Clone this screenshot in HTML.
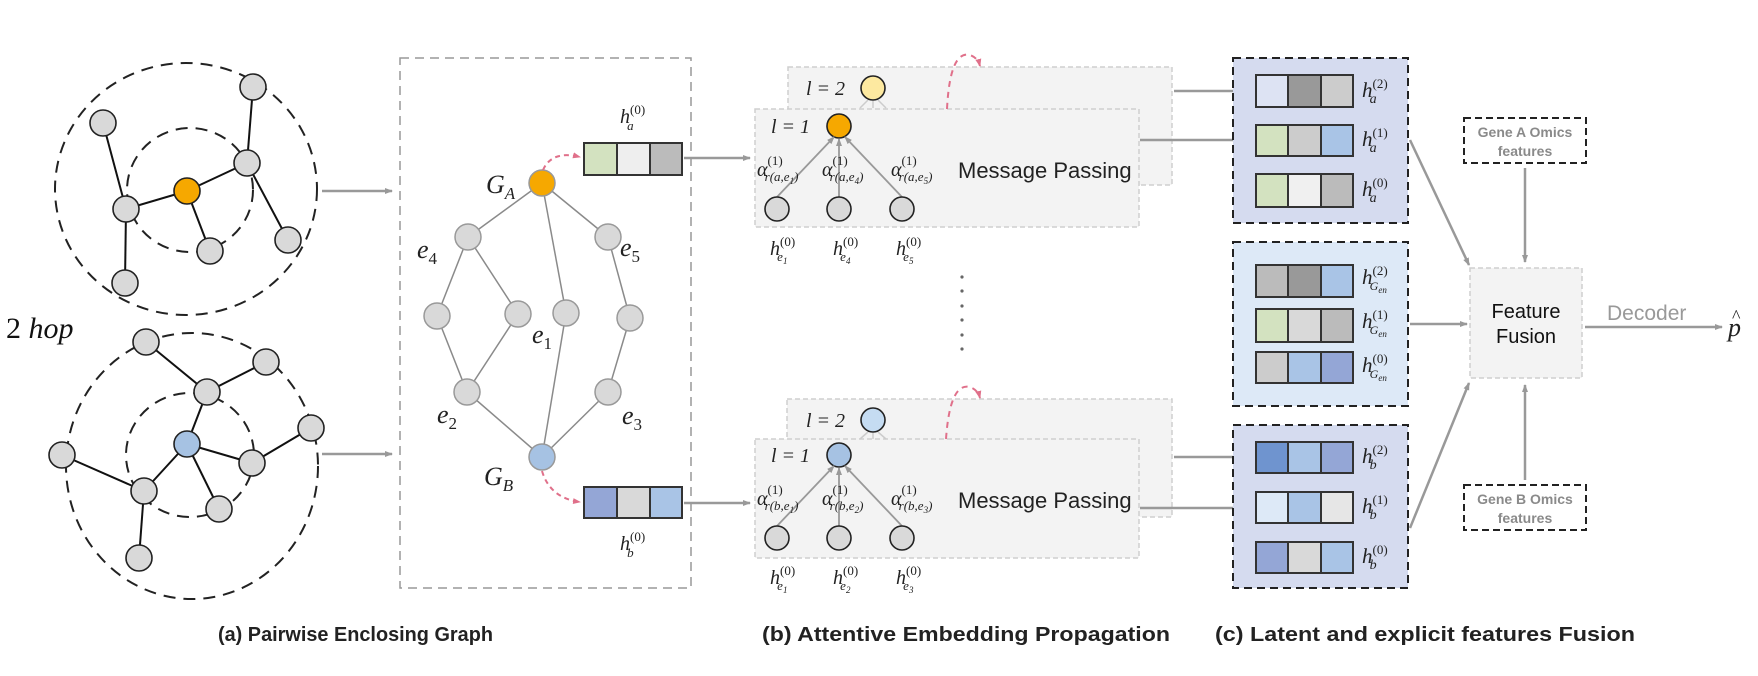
<!DOCTYPE html>
<html><head><meta charset="utf-8"><style>
html,body{margin:0;padding:0;background:#fff;}
svg{display:block;}
.m{font-family:"Liberation Serif",serif;font-style:italic;fill:#222;}
.s{font-family:"Liberation Sans",sans-serif;}
</style></head><body>
<svg width="1758" height="676" viewBox="0 0 1758 676" xmlns="http://www.w3.org/2000/svg">
<defs>
<marker id="ag" markerWidth="8" markerHeight="8" refX="7" refY="4" orient="auto" markerUnits="userSpaceOnUse"><path d="M0,1 L8,4 L0,7 z" fill="#999"/></marker>
<marker id="ap" markerWidth="8" markerHeight="8" refX="7" refY="4" orient="auto" markerUnits="userSpaceOnUse"><path d="M0,1 L8,4 L0,7 z" fill="#e0708a"/></marker>
</defs>

<!-- Top left graph -->
<ellipse cx="186" cy="189" rx="131" ry="126" fill="none" stroke="#222" stroke-width="2" stroke-dasharray="12,8"/>
<ellipse cx="190" cy="190" rx="63" ry="62" fill="none" stroke="#222" stroke-width="2" stroke-dasharray="12,8"/>
<g stroke="#111" stroke-width="2">
<line x1="103" y1="123" x2="126" y2="209"/><line x1="126" y1="209" x2="187" y2="191"/>
<line x1="187" y1="191" x2="247" y2="163"/><line x1="247" y1="163" x2="253" y2="87"/>
<line x1="247" y1="163" x2="288" y2="240"/><line x1="187" y1="191" x2="210" y2="251"/>
<line x1="126" y1="209" x2="125" y2="283"/>
</g>
<g stroke="#222" stroke-width="1.6" fill="#d9d9d9">
<circle cx="253" cy="87" r="13"/><circle cx="103" cy="123" r="13"/><circle cx="247" cy="163" r="13"/>
<circle cx="187" cy="191" r="13" fill="#f6a800"/><circle cx="126" cy="209" r="13"/><circle cx="210" cy="251" r="13"/>
<circle cx="288" cy="240" r="13"/><circle cx="125" cy="283" r="13"/>
</g>
<text x="6" y="338" font-family="Liberation Serif,serif" font-size="30" fill="#111">2 <tspan font-style="italic">hop</tspan></text>

<!-- Bottom left graph -->
<ellipse cx="192" cy="466" rx="126" ry="133" fill="none" stroke="#222" stroke-width="2" stroke-dasharray="12,8"/>
<ellipse cx="190" cy="455" rx="64" ry="62" fill="none" stroke="#222" stroke-width="2" stroke-dasharray="12,8"/>
<g stroke="#111" stroke-width="2">
<line x1="146" y1="342" x2="207" y2="392"/><line x1="266" y1="362" x2="207" y2="392"/>
<line x1="207" y1="392" x2="187" y2="444"/><line x1="187" y1="444" x2="252" y2="463"/>
<line x1="252" y1="463" x2="311" y2="428"/><line x1="187" y1="444" x2="144" y2="491"/>
<line x1="187" y1="444" x2="219" y2="509"/><line x1="62" y1="455" x2="144" y2="491"/>
<line x1="144" y1="491" x2="139" y2="558"/>
</g>
<g stroke="#222" stroke-width="1.6" fill="#d9d9d9">
<circle cx="146" cy="342" r="13"/><circle cx="266" cy="362" r="13"/><circle cx="207" cy="392" r="13"/>
<circle cx="311" cy="428" r="13"/><circle cx="187" cy="444" r="13" fill="#a6c2e3"/><circle cx="62" cy="455" r="13"/>
<circle cx="252" cy="463" r="13"/><circle cx="144" cy="491" r="13"/><circle cx="219" cy="509" r="13"/>
<circle cx="139" cy="558" r="13"/>
</g>

<line x1="322" y1="191" x2="392" y2="191" stroke="#999" stroke-width="2.5" marker-end="url(#ag)"/>
<line x1="322" y1="454" x2="392" y2="454" stroke="#999" stroke-width="2.5" marker-end="url(#ag)"/>

<!-- Enclosing graph box -->
<rect x="400" y="58" width="291" height="530" fill="none" stroke="#999" stroke-width="1.5" stroke-dasharray="9,6"/>
<g stroke="#8a8a8a" stroke-width="1.5">
<line x1="542" y1="183" x2="468" y2="237"/><line x1="542" y1="183" x2="608" y2="237"/><line x1="542" y1="183" x2="566" y2="313"/>
<line x1="468" y1="237" x2="437" y2="316"/><line x1="468" y1="237" x2="518" y2="314"/><line x1="608" y1="237" x2="630" y2="318"/>
<line x1="437" y1="316" x2="467" y2="392"/><line x1="518" y1="314" x2="467" y2="392"/><line x1="566" y1="313" x2="542" y2="457"/>
<line x1="630" y1="318" x2="608" y2="392"/><line x1="467" y1="392" x2="542" y2="457"/><line x1="608" y1="392" x2="542" y2="457"/>
</g>
<g stroke="#999" stroke-width="1.5" fill="#d9d9d9">
<circle cx="542" cy="183" r="13" fill="#f6a800"/><circle cx="468" cy="237" r="13"/><circle cx="608" cy="237" r="13"/>
<circle cx="437" cy="316" r="13"/><circle cx="518" cy="314" r="13"/><circle cx="566" cy="313" r="13"/><circle cx="630" cy="318" r="13"/>
<circle cx="467" cy="392" r="13"/><circle cx="608" cy="392" r="13"/><circle cx="542" cy="457" r="13" fill="#a6c2e3"/>
</g>
<g class="m" font-size="26">
<text x="486" y="193">G<tspan font-size="17" dy="6">A</tspan></text>
<text x="417" y="258">e<tspan font-size="17" dy="6" font-style="normal">4</tspan></text>
<text x="620" y="256">e<tspan font-size="17" dy="6" font-style="normal">5</tspan></text>
<text x="532" y="343">e<tspan font-size="17" dy="6" font-style="normal">1</tspan></text>
<text x="437" y="423">e<tspan font-size="17" dy="6" font-style="normal">2</tspan></text>
<text x="622" y="424">e<tspan font-size="17" dy="6" font-style="normal">3</tspan></text>
<text x="484" y="485">G<tspan font-size="17" dy="6">B</tspan></text>
</g>
<!-- initial vectors -->
<g stroke="#333" stroke-width="2">
<rect x="584" y="143" width="33" height="32" fill="#d3e2c0"/><rect x="617" y="143" width="33" height="32" fill="#eeeeee"/><rect x="650" y="143" width="32" height="32" fill="#bbbbbb"/>
<rect x="584" y="487" width="33" height="31" fill="#94a6d6"/><rect x="617" y="487" width="33" height="31" fill="#d9d9d9"/><rect x="650" y="487" width="32" height="31" fill="#a9c4e6"/>
</g>
<text class="m" x="620" y="123" font-size="20">h<tspan font-size="13" dy="-9" font-style="normal">(0)</tspan><tspan font-size="13" dx="-18" dy="16">a</tspan></text>
<text class="m" x="620" y="550" font-size="20">h<tspan font-size="13" dy="-9" font-style="normal">(0)</tspan><tspan font-size="13" dx="-18" dy="16">b</tspan></text>
<path d="M543,170 Q552,150 580,157" fill="none" stroke="#e0708a" stroke-width="2" stroke-dasharray="5,4" marker-end="url(#ap)"/>
<path d="M542,471 Q550,498 580,502" fill="none" stroke="#e0708a" stroke-width="2" stroke-dasharray="5,4" marker-end="url(#ap)"/>
<line x1="684" y1="158" x2="750" y2="158" stroke="#999" stroke-width="2.5" marker-end="url(#ag)"/>
<line x1="684" y1="503" x2="750" y2="503" stroke="#999" stroke-width="2.5" marker-end="url(#ag)"/>

<!-- Message passing top -->
<rect x="788" y="67" width="384" height="118" fill="#f3f3f3" stroke="#cfcfcf" stroke-width="1.5" stroke-dasharray="5,3"/>
<rect x="755" y="109" width="384" height="118" fill="#f3f3f3" stroke="#cfcfcf" stroke-width="1.5" stroke-dasharray="5,3"/>
<circle cx="873" cy="88" r="12" fill="#fde9a0" stroke="#222" stroke-width="1.6"/>
<circle cx="839" cy="126" r="12" fill="#f6a800" stroke="#222" stroke-width="1.6"/>
<g stroke="#ccc" stroke-width="1.5"><line x1="860" y1="108" x2="868" y2="100"/><line x1="873" y1="108" x2="873" y2="101"/><line x1="886" y1="108" x2="878" y2="100"/></g>
<g stroke="#999" stroke-width="1.8">
<line x1="777" y1="197" x2="834" y2="137" marker-end="url(#ag)"/><line x1="839" y1="197" x2="839" y2="139" marker-end="url(#ag)"/><line x1="902" y1="197" x2="845" y2="137" marker-end="url(#ag)"/>
</g>
<g fill="#d9d9d9" stroke="#222" stroke-width="1.6"><circle cx="777" cy="209" r="12"/><circle cx="839" cy="209" r="12"/><circle cx="902" cy="209" r="12"/></g>
<g class="m" font-size="20">
<text x="806" y="95">l = 2</text><text x="771" y="133">l = 1</text>
<text x="757" y="176">α<tspan font-size="13" font-style="normal" dy="-11">(1)</tspan><tspan font-size="13" dx="-18" dy="16">r(a,e<tspan font-size="9" dy="3">1</tspan><tspan dy="-3">)</tspan></tspan></text>
<text x="822" y="176">α<tspan font-size="13" font-style="normal" dy="-11">(1)</tspan><tspan font-size="13" dx="-18" dy="16">r(a,e<tspan font-size="9" dy="3">4</tspan><tspan dy="-3">)</tspan></tspan></text>
<text x="891" y="176">α<tspan font-size="13" font-style="normal" dy="-11">(1)</tspan><tspan font-size="13" dx="-18" dy="16">r(a,e<tspan font-size="9" dy="3">5</tspan><tspan dy="-3">)</tspan></tspan></text>
<text x="770" y="255">h<tspan font-size="13" font-style="normal" dy="-9">(0)</tspan><tspan font-size="13" dx="-18" dy="15">e<tspan font-size="9" dy="3">1</tspan></tspan></text>
<text x="833" y="255">h<tspan font-size="13" font-style="normal" dy="-9">(0)</tspan><tspan font-size="13" dx="-18" dy="15">e<tspan font-size="9" dy="3">4</tspan></tspan></text>
<text x="896" y="255">h<tspan font-size="13" font-style="normal" dy="-9">(0)</tspan><tspan font-size="13" dx="-18" dy="15">e<tspan font-size="9" dy="3">5</tspan></tspan></text>
</g>
<text class="s" x="958" y="178" font-size="22" fill="#222">Message Passing</text>
<path d="M947,109 Q950,50 970,55 Q978,58 980,66" fill="none" stroke="#e0708a" stroke-width="2" stroke-dasharray="6,5" marker-end="url(#ap)"/>
<line x1="1174" y1="91" x2="1252" y2="91" stroke="#999" stroke-width="2.5" marker-end="url(#ag)"/>
<line x1="1140" y1="140" x2="1252" y2="140" stroke="#999" stroke-width="2.5" marker-end="url(#ag)"/>

<!-- dots -->
<g fill="#666"><circle cx="962" cy="277" r="1.6"/><circle cx="962" cy="291" r="1.6"/><circle cx="962" cy="306" r="1.6"/><circle cx="962" cy="320" r="1.6"/><circle cx="962" cy="335" r="1.6"/><circle cx="962" cy="349" r="1.6"/></g>

<!-- Message passing bottom -->
<rect x="787" y="399" width="385" height="118" fill="#f3f3f3" stroke="#cfcfcf" stroke-width="1.5" stroke-dasharray="5,3"/>
<rect x="755" y="439" width="384" height="119" fill="#f3f3f3" stroke="#cfcfcf" stroke-width="1.5" stroke-dasharray="5,3"/>
<circle cx="873" cy="420" r="12" fill="#c5dcf2" stroke="#222" stroke-width="1.6"/>
<circle cx="839" cy="455" r="12" fill="#a6c2e3" stroke="#222" stroke-width="1.6"/>
<g stroke="#ccc" stroke-width="1.5"><line x1="860" y1="439" x2="868" y2="432"/><line x1="873" y1="439" x2="873" y2="433"/><line x1="886" y1="439" x2="878" y2="432"/></g>
<g stroke="#999" stroke-width="1.8">
<line x1="777" y1="526" x2="834" y2="466" marker-end="url(#ag)"/><line x1="839" y1="526" x2="839" y2="468" marker-end="url(#ag)"/><line x1="902" y1="526" x2="845" y2="466" marker-end="url(#ag)"/>
</g>
<g fill="#d9d9d9" stroke="#222" stroke-width="1.6"><circle cx="777" cy="538" r="12"/><circle cx="839" cy="538" r="12"/><circle cx="902" cy="538" r="12"/></g>
<g class="m" font-size="20">
<text x="806" y="427">l  = 2</text><text x="771" y="462">l  = 1</text>
<text x="757" y="505">α<tspan font-size="13" font-style="normal" dy="-11">(1)</tspan><tspan font-size="13" dx="-18" dy="16">r(b,e<tspan font-size="9" dy="3">1</tspan><tspan dy="-3">)</tspan></tspan></text>
<text x="822" y="505">α<tspan font-size="13" font-style="normal" dy="-11">(1)</tspan><tspan font-size="13" dx="-18" dy="16">r(b,e<tspan font-size="9" dy="3">2</tspan><tspan dy="-3">)</tspan></tspan></text>
<text x="891" y="505">α<tspan font-size="13" font-style="normal" dy="-11">(1)</tspan><tspan font-size="13" dx="-18" dy="16">r(b,e<tspan font-size="9" dy="3">3</tspan><tspan dy="-3">)</tspan></tspan></text>
<text x="770" y="584">h<tspan font-size="13" font-style="normal" dy="-9">(0)</tspan><tspan font-size="13" dx="-18" dy="15">e<tspan font-size="9" dy="3">1</tspan></tspan></text>
<text x="833" y="584">h<tspan font-size="13" font-style="normal" dy="-9">(0)</tspan><tspan font-size="13" dx="-18" dy="15">e<tspan font-size="9" dy="3">2</tspan></tspan></text>
<text x="896" y="584">h<tspan font-size="13" font-style="normal" dy="-9">(0)</tspan><tspan font-size="13" dx="-18" dy="15">e<tspan font-size="9" dy="3">3</tspan></tspan></text>
</g>
<text class="s" x="958" y="508" font-size="22" fill="#222">Message Passing</text>
<path d="M946,439 Q950,382 970,387 Q978,390 980,398" fill="none" stroke="#e0708a" stroke-width="2" stroke-dasharray="6,5" marker-end="url(#ap)"/>
<line x1="1174" y1="457" x2="1252" y2="457" stroke="#999" stroke-width="2.5" marker-end="url(#ag)"/>
<line x1="1140" y1="508" x2="1252" y2="508" stroke="#999" stroke-width="2.5" marker-end="url(#ag)"/>

<!-- Right column -->
<rect x="1233" y="58" width="175" height="165" fill="#d5dbef" stroke="#222" stroke-width="2" stroke-dasharray="8,5"/>
<rect x="1233" y="242" width="175" height="164" fill="#dde9f7" stroke="#222" stroke-width="2" stroke-dasharray="8,5"/>
<rect x="1233" y="425" width="175" height="163" fill="#d5dbef" stroke="#222" stroke-width="2" stroke-dasharray="8,5"/>
<g stroke="#333" stroke-width="2">
<rect x="1256" y="75" width="32" height="32" fill="#dde3f3"/><rect x="1288" y="75" width="33" height="32" fill="#999"/><rect x="1321" y="75" width="32" height="32" fill="#ccc"/>
<rect x="1256" y="125" width="32" height="31" fill="#d3e2c0"/><rect x="1288" y="125" width="33" height="31" fill="#ccc"/><rect x="1321" y="125" width="32" height="31" fill="#a9c4e6"/>
<rect x="1256" y="174" width="32" height="33" fill="#d3e2c0"/><rect x="1288" y="174" width="33" height="33" fill="#f0f0f0"/><rect x="1321" y="174" width="32" height="33" fill="#bbb"/>
<rect x="1256" y="265" width="32" height="32" fill="#bbb"/><rect x="1288" y="265" width="33" height="32" fill="#999"/><rect x="1321" y="265" width="32" height="32" fill="#a9c4e6"/>
<rect x="1256" y="309" width="32" height="33" fill="#d3e2c0"/><rect x="1288" y="309" width="33" height="33" fill="#d9d9d9"/><rect x="1321" y="309" width="32" height="33" fill="#bbb"/>
<rect x="1256" y="352" width="32" height="31" fill="#ccc"/><rect x="1288" y="352" width="33" height="31" fill="#a9c4e6"/><rect x="1321" y="352" width="32" height="31" fill="#94a6d6"/>
<rect x="1256" y="442" width="32" height="31" fill="#6f94cf"/><rect x="1288" y="442" width="33" height="31" fill="#a9c4e6"/><rect x="1321" y="442" width="32" height="31" fill="#94a6d6"/>
<rect x="1256" y="492" width="32" height="31" fill="#dde9f7"/><rect x="1288" y="492" width="33" height="31" fill="#a9c4e6"/><rect x="1321" y="492" width="32" height="31" fill="#e6e6e6"/>
<rect x="1256" y="542" width="32" height="31" fill="#94a6d6"/><rect x="1288" y="542" width="33" height="31" fill="#d9d9d9"/><rect x="1321" y="542" width="32" height="31" fill="#a9c4e6"/>
</g>
<g class="m" font-size="21">
<text x="1362" y="97">h<tspan font-size="13" font-style="normal" dy="-9">(2)</tspan><tspan font-size="14" dx="-18" dy="15">a</tspan></text>
<text x="1362" y="146">h<tspan font-size="13" font-style="normal" dy="-9">(1)</tspan><tspan font-size="14" dx="-18" dy="15">a</tspan></text>
<text x="1362" y="196">h<tspan font-size="13" font-style="normal" dy="-9">(0)</tspan><tspan font-size="14" dx="-18" dy="15">a</tspan></text>
<text x="1362" y="284">h<tspan font-size="13" font-style="normal" dy="-9">(2)</tspan><tspan font-size="12" dx="-18" dy="15">G<tspan font-size="9" dy="3">en</tspan></tspan></text>
<text x="1362" y="328">h<tspan font-size="13" font-style="normal" dy="-9">(1)</tspan><tspan font-size="12" dx="-18" dy="15">G<tspan font-size="9" dy="3">en</tspan></tspan></text>
<text x="1362" y="372">h<tspan font-size="13" font-style="normal" dy="-9">(0)</tspan><tspan font-size="12" dx="-18" dy="15">G<tspan font-size="9" dy="3">en</tspan></tspan></text>
<text x="1362" y="463">h<tspan font-size="13" font-style="normal" dy="-9">(2)</tspan><tspan font-size="14" dx="-18" dy="15">b</tspan></text>
<text x="1362" y="513">h<tspan font-size="13" font-style="normal" dy="-9">(1)</tspan><tspan font-size="14" dx="-18" dy="15">b</tspan></text>
<text x="1362" y="563">h<tspan font-size="13" font-style="normal" dy="-9">(0)</tspan><tspan font-size="14" dx="-18" dy="15">b</tspan></text>
</g>

<!-- Fusion -->
<rect x="1470" y="268" width="112" height="110" fill="#f3f3f3" stroke="#cfcfcf" stroke-width="1.5" stroke-dasharray="5,3"/>
<text class="s" x="1526" y="318" font-size="20" fill="#111" text-anchor="middle">Feature</text>
<text class="s" x="1526" y="343" font-size="20" fill="#111" text-anchor="middle">Fusion</text>
<rect x="1464" y="118" width="122" height="45" fill="none" stroke="#222" stroke-width="2" stroke-dasharray="7,4"/>
<text class="s" x="1525" y="137" font-size="14" font-weight="bold" fill="#8a8a8a" text-anchor="middle">Gene A Omics</text>
<text class="s" x="1525" y="156" font-size="14" font-weight="bold" fill="#8a8a8a" text-anchor="middle">features</text>
<rect x="1464" y="485" width="122" height="45" fill="none" stroke="#222" stroke-width="2" stroke-dasharray="7,4"/>
<text class="s" x="1525" y="504" font-size="14" font-weight="bold" fill="#8a8a8a" text-anchor="middle">Gene B Omics</text>
<text class="s" x="1525" y="523" font-size="14" font-weight="bold" fill="#8a8a8a" text-anchor="middle">features</text>
<g stroke="#999" stroke-width="2.5">
<line x1="1525" y1="168" x2="1525" y2="262" marker-end="url(#ag)"/>
<line x1="1525" y1="480" x2="1525" y2="385" marker-end="url(#ag)"/>
<line x1="1410" y1="140" x2="1469" y2="265" marker-end="url(#ag)"/>
<line x1="1410" y1="324" x2="1467" y2="324" marker-end="url(#ag)"/>
<line x1="1410" y1="528" x2="1469" y2="383" marker-end="url(#ag)"/>
<line x1="1585" y1="327" x2="1722" y2="327" marker-end="url(#ag)"/>
</g>
<text class="s" x="1607" y="320" font-size="21" fill="#999">Decoder</text>
<text class="m" x="1728" y="336" font-size="26">p</text>
<text x="1732" y="322" font-family="Liberation Serif,serif" font-size="18" fill="#222">^</text>

<!-- Captions -->
<g class="s" font-size="20" font-weight="bold" fill="#222">
<text x="218" y="641" textLength="275" lengthAdjust="spacingAndGlyphs">(a) Pairwise Enclosing Graph</text>
<text x="762" y="641" textLength="408" lengthAdjust="spacingAndGlyphs">(b) Attentive Embedding Propagation</text>
<text x="1215" y="641" textLength="420" lengthAdjust="spacingAndGlyphs">(c) Latent and explicit features Fusion</text>
</g>
</svg>
</body></html>
